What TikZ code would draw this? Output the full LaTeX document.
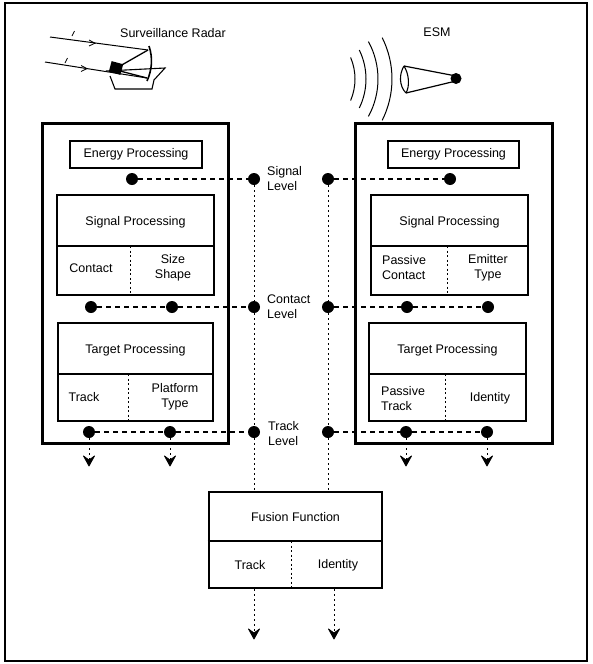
\documentclass[tikz,border=0pt]{standalone}
\usepackage{fontspec}
\setmainfont{Liberation Sans}
\begin{document}
\begin{tikzpicture}[x=1pt,y=-1pt,
  lbl/.style={font=\fontsize{12.5}{15}\selectfont, inner sep=0pt, align=center},
  bigbox/.style={draw, line width=2.6pt, inner sep=0pt},
  inbox/.style={draw, line width=1.7pt, inner sep=0pt, font=\fontsize{12.5}{15}\selectfont},
  cellrule/.style={line width=1.2pt},
  celldiv/.style={line width=0.7pt, dash pattern=on 2pt off 2.5pt},
  levdot/.style={circle, fill, inner sep=0pt, minimum size=12pt},
  hlink/.style={line width=1.3pt, dash pattern=on 5pt off 4pt},
  vlink/.style={line width=0.8pt, dash pattern=on 1.5pt off 3.5pt}
]
% downward barbed head whose point sits on the given coordinate
\newcommand\downhead[1]{\filldraw[solid, line width=0.8pt, line join=round] (#1) -- ++(-5.5,-10) -- ++(5.5,4) -- ++(5.5,-4) -- cycle;}

\useasboundingbox (0,0) rectangle (592,664);
\draw[line width=2pt] (5,3) rectangle (587,661);

% ---------- sensor sketches ----------
\node[lbl] (radarlbl) at (173,33) {Surveillance Radar};
\node[lbl] (esmlbl) at (437,32) {ESM};

% radar beams with small direction marks
\draw[line width=1pt] (50,37) -- (148,50);
\draw[line width=1pt] (45,62) -- (147,78);
\draw[line width=0.8pt] (89,40) -- (95,43.2) -- (89,46);
\draw[line width=0.8pt] (81,65.5) -- (87,68.6) -- (81,71.5);
\draw[line width=0.7pt] (72,36) -- (74.5,31);
\draw[line width=0.7pt] (65,63) -- (67.5,58);
% dish, feed and mount
\draw[line width=1.6pt] (149,46) .. controls (153,58) and (152,70) .. (147,81);
\draw[line width=1.3pt] (148,50) -- (120,66);
\draw[line width=1.3pt] (147,78) -- (120,71);
\fill[rotate around={-15:(116,68)}] (110,62.5) rectangle (122,73.5);
% hull
\draw[line width=1.1pt] (106,71) -- (165,68) -- (154,80) -- (152,89) -- (115,89) -- (110,76);

% ESM antenna and incoming waves
\foreach \r/\a in {55/23, 66/26, 78/28.7, 92/26.7}
  \draw[line width=1pt] (300,79) ++(-\a:\r) arc[start angle=-\a, end angle=\a, radius=\r];
\draw[line width=1.2pt] (404,66) -- (456,76);
\draw[line width=1.2pt] (406,93) -- (456,81);
\draw[line width=1.1pt] (404,66) .. controls (399,74) and (399,86) .. (406,93);
\draw[line width=1.1pt] (404,66) .. controls (409,74) and (410,86) .. (406,93);
\fill (456,78.5) circle (5.5pt);

% ---------- sensor processing chains ----------
\node[bigbox, anchor=north west, minimum width=186pt, minimum height=320pt] (radarbox) at (41,122) {};
\node[bigbox, anchor=north west, minimum width=197pt, minimum height=320pt] (esmbox) at (354,122) {};

% energy processing
\node[inbox, minimum width=132pt, minimum height=27pt] (lE) at (136,154.5) {Energy Processing};
\node[inbox, minimum width=131pt, minimum height=27pt] (rE) at (453.5,154.5) {Energy Processing};

% signal processing
\node[inbox, minimum width=157pt, minimum height=100pt] (lS) at (135.5,245) {};
\node[inbox, minimum width=157pt, minimum height=100pt] (rS) at (449.5,245) {};
\draw[cellrule] (lS.west |- 0,246) -- (lS.east |- 0,246);
\draw[cellrule] (rS.west |- 0,246) -- (rS.east |- 0,246);
\draw[celldiv] (130,246) -- (130,295);
\draw[celldiv] (447,246) -- (447,295);
\node[lbl] (lSt) at (135.5,222) {Signal Processing};
\node[lbl] (rSt) at (449.5,222) {Signal Processing};
\node[lbl] (lSa) at (91,268) {Contact};
\node[lbl] (lSb) at (173,268) {Size\\Shape};
\node[lbl, align=left, anchor=west] (rSa) at (382,268) {Passive\\Contact};
\node[lbl] (rSb) at (488,268) {Emitter\\Type};

% target processing
\node[inbox, minimum width=155pt, minimum height=98pt] (lT) at (135.5,372) {};
\node[inbox, minimum width=157pt, minimum height=98pt] (rT) at (447.5,372) {};
\draw[cellrule] (lT.west |- 0,374) -- (lT.east |- 0,374);
\draw[cellrule] (rT.west |- 0,374) -- (rT.east |- 0,374);
\draw[celldiv] (128,374) -- (128,421);
\draw[celldiv] (445,374) -- (445,421);
\node[lbl] (lTt) at (135.5,350) {Target Processing};
\node[lbl] (rTt) at (447.5,350) {Target Processing};
\node[lbl] (lTa) at (84,397) {Track};
\node[lbl] (lTb) at (175,397) {Platform\\Type};
\node[lbl, align=left, anchor=west] (rTa) at (381,399) {Passive\\Track};
\node[lbl] (rTb) at (490,398) {Identity};

% ---------- fusion ----------
\node[bigbox, minimum width=173pt, minimum height=96pt] (fus) at (295.5,540) {};
\draw[cellrule] (fus.west |- 0,541) -- (fus.east |- 0,541);
\draw[celldiv] (291,541) -- (291,588);
\node[lbl] (fust) at (295.5,517) {Fusion Function};
\node[lbl] (fusa) at (250,565) {Track};
\node[lbl] (fusb) at (338,565) {Identity};

% ---------- level taps ----------
\node[levdot] (sL1) at (132,179) {};
\node[levdot] (sL)  at (254,179) {};
\node[levdot] (sR)  at (328,179) {};
\node[levdot] (sR1) at (450,179) {};

\node[levdot] (cL1) at (91,307) {};
\node[levdot] (cL2) at (172,307) {};
\node[levdot] (cL)  at (254,307) {};
\node[levdot] (cR)  at (328,307) {};
\node[levdot] (cR1) at (407,307) {};
\node[levdot] (cR2) at (488,307) {};

\node[levdot] (tL1) at (89,432) {};
\node[levdot] (tL2) at (170,432) {};
\node[levdot] (tL)  at (254,432) {};
\node[levdot] (tR)  at (328,432) {};
\node[levdot] (tR1) at (406,432) {};
\node[levdot] (tR2) at (487,432) {};

\node[lbl, align=left, anchor=west] (sLab) at (267,179) {Signal\\Level};
\node[lbl, align=left, anchor=west] (cLab) at (267,307) {Contact\\Level};
\node[lbl, align=left, anchor=west] (tLab) at (268,434) {Track\\Level};

% horizontal links within each level
\draw[hlink] (sL1) -- (sL);
\draw[hlink] (sR) -- (sR1);
\draw[hlink] (cL1) -- (cL2) -- (cL);
\draw[hlink] (cR) -- (cR1) -- (cR2);
\draw[hlink] (tL1) -- (tL2) -- (tL);
\draw[hlink] (tR) -- (tR1) -- (tR2);

% vertical feeds into the fusion function
\draw[vlink] (sL) -- (cL) -- (tL) -- (tL |- fus.north);
\draw[vlink] (sR) -- (cR) -- (tR) -- (tR |- fus.north);

% outputs: dotted stems ending in solid heads
\coordinate (o1) at (89,466);
\coordinate (o2) at (170,466);
\coordinate (o3) at (406,466);
\coordinate (o4) at (487,466);
\coordinate (o5) at (254,639);
\coordinate (o6) at (334,639);
\foreach \s/\t in {tL1/o1, tL2/o2, tR1/o3, tR2/o4} {
  \draw[vlink] (\s) -- (\t);
  \downhead{\t}
}
\foreach \t in {o5, o6} {
  \draw[vlink] (\t |- fus.south) -- (\t);
  \downhead{\t}
}
\end{tikzpicture}
\end{document}
